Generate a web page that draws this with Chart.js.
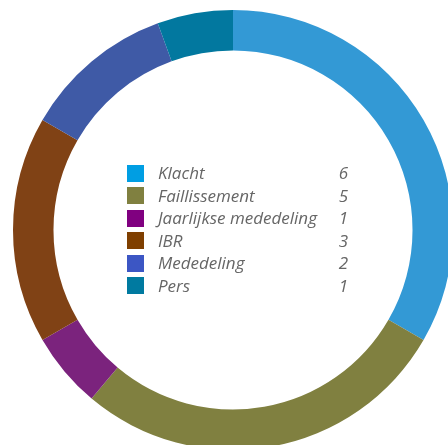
<!DOCTYPE html>
<html>
<head>
<meta charset="utf-8">
<script src="https://cdn.jsdelivr.net/npm/chart.js@4"></script>
<style>
    html, body { margin: 0; padding: 0; background: #fff; overflow: hidden; width: 448px; height: 445px; }
    #wrap { position: absolute; left: 13px; top: 10px; width: 440px; height: 440px; }
    #legend { position: absolute; left: 127px; top: 162px; border-collapse: collapse;
        font-family: "Open Sans", sans-serif; font-style: italic; font-size: 17px; color: #666; }
    #legend td { padding: 0; height: 22.5px; line-height: 22.5px; }
    #legend .sw { width: 17px; height: 17px; display: block; }
    #legend .lbl { padding-left: 14px; width: 173px; white-space: nowrap; }
    #legend .val { text-align: right; width: 17px; }
</style>
</head>
<body>
<div id="wrap"><canvas id="chart" width="440" height="440"></canvas></div>
<table id="legend"></table>
<script>
// Gegevens
const categories = ['Klacht', 'Faillissement', 'Jaarlijkse mededeling', 'IBR', 'Mededeling', 'Pers'];
const values = [6, 5, 1, 3, 2, 1];
const segmentColors = ['#3399d5', '#808040', '#7b237d', '#804215', '#3f5aa6', '#02789f'];
const legendColors = ['#009ee3', '#808040', '#800080', '#7f3f00', '#3c56c4', '#007aa0'];

// Legenda in het midden
const legend = document.getElementById('legend');
categories.forEach((cat, i) => {
    const row = document.createElement('tr');
    row.innerHTML = `
        <td><span class="sw" style="background:${legendColors[i]}"></span></td>
        <td class="lbl">${cat}</td>
        <td class="val">${values[i]}</td>
    `;
    legend.appendChild(row);
});

new Chart(document.getElementById('chart'), {
    type: 'doughnut',
    data: {
        labels: categories,
        datasets: [{
            data: values,
            backgroundColor: segmentColors,
            borderWidth: 0
        }]
    },
    options: {
        responsive: false,
        animation: false,
        cutout: '81.6%',
        layout: { padding: 0 },
        plugins: {
            legend: { display: false },
            tooltip: { enabled: false }
        }
    }
});
</script>
</body>
</html>
